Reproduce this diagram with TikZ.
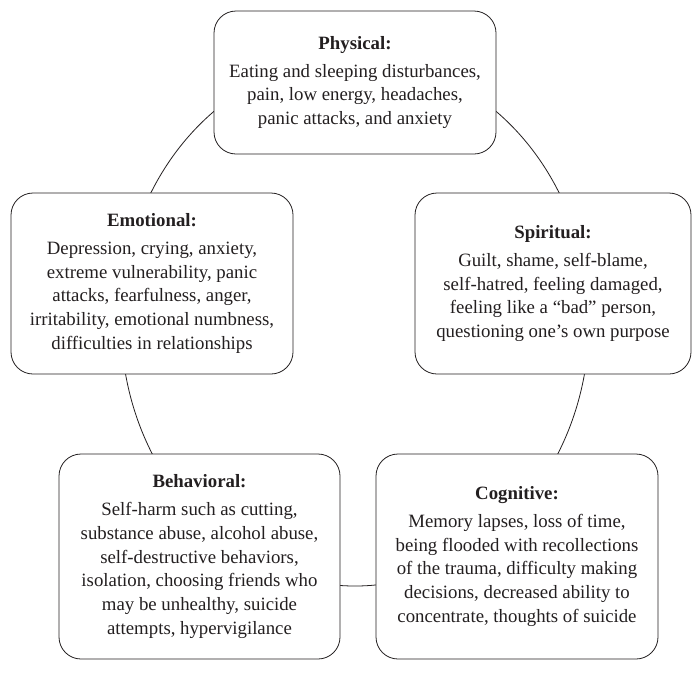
\documentclass[tikz,border=0pt]{standalone}
\usepackage{fontspec}
\setmainfont{Liberation Serif}
\definecolor{ink}{HTML}{231F20}
\tikzset{
  box/.style={draw=ink, line width=0.8pt, fill=white, rounded corners=22pt,
    align=center, inner sep=0pt, text=ink,
    font=\fontsize{18.8}{23.8}\selectfont},
  ring/.style={draw=ink, line width=0.8pt}
}
\begin{document}
\begin{tikzpicture}[x=1pt,y=-1pt]
\useasboundingbox (0,0) rectangle (692,691);
\draw[ring] (355,322) ellipse [x radius=234pt, y radius=264pt];
\node[box, minimum width=282pt, minimum height=143pt] (phys) at (355,82.5)
  {\textbf{Physical:}\\[4pt] Eating and sleeping disturbances,\\ pain, low energy, headaches,\\ panic attacks, and anxiety};
\node[box, minimum width=282pt, minimum height=181pt] (emot) at (152,283.5)
  {\textbf{Emotional:}\\[4pt] Depression, crying, anxiety,\\ extreme vulnerability, panic\\ attacks, fearfulness, anger,\\ irritability, emotional numbness,\\ difficulties in relationships};
\node[box, minimum width=276pt, minimum height=181pt] (spir) at (553,283.5)
  {\textbf{Spiritual:}\\[4pt] Guilt, shame, self-blame,\\ self-hatred, feeling damaged,\\ feeling like a ``bad'' person,\\ questioning one’s own purpose};
\node[box, minimum width=281pt, minimum height=205pt] (behv) at (199.5,556.5)
  {\textbf{Behavioral:}\\[4pt] Self-harm such as cutting,\\ substance abuse, alcohol abuse,\\ self-destructive behaviors,\\ isolation, choosing friends who\\ may be unhealthy, suicide\\ attempts, hypervigilance};
\node[box, minimum width=282pt, minimum height=205pt] (cogn) at (517,556.5)
  {\textbf{Cognitive:}\\[4pt] Memory lapses, loss of time,\\ being flooded with recollections\\ of the trauma, difficulty making\\ decisions, decreased ability to\\ concentrate, thoughts of suicide};
\end{tikzpicture}
\end{document}
